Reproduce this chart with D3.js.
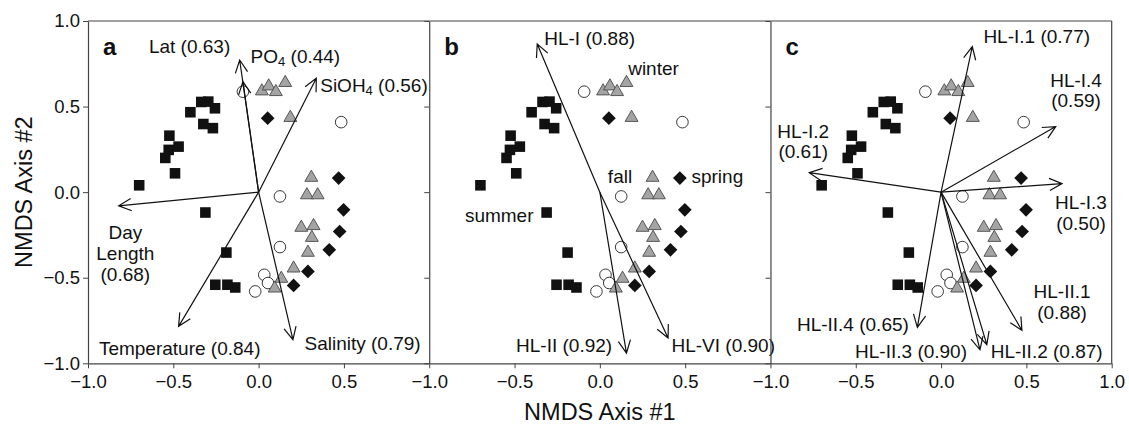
<!DOCTYPE html>
<html>
<head>
<meta charset="utf-8">
<script src="https://cdn.jsdelivr.net/npm/d3@7"></script>
<style>
body { margin: 0; background: #fff; }
text { font-family: "Liberation Sans", Arial, sans-serif; fill: #111; }
</style>
</head>
<body>
<div id="chart"></div>
<script>
const width = 1129;
const height = 425;

// sample scores (same ordination in all three panels)
const squares = [[-0.70,0.04],[-0.49,0.11],[-0.547,0.20],[-0.527,0.247],[-0.469,0.266],[-0.523,0.33],[-0.40,0.467],[-0.336,0.527],[-0.295,0.529],[-0.256,0.49],[-0.324,0.398],[-0.268,0.374],[-0.312,-0.119],[-0.189,-0.353],[-0.254,-0.541],[-0.183,-0.541],[-0.137,-0.557]];
const circles = [[-0.092,0.587],[0.484,0.409],[0.125,-0.025],[0.125,-0.321],[0.033,-0.483],[0.055,-0.531],[-0.02,-0.58]];
const triangles = [[0.019,0.59],[0.059,0.619],[0.101,0.586],[0.156,0.639],[0.186,0.435],[0.309,0.085],[0.283,-0.017],[0.346,-0.017],[0.25,-0.207],[0.322,-0.197],[0.312,-0.266],[0.289,-0.353],[0.205,-0.445],[0.133,-0.505],[0.094,-0.562]];
const diamonds = [[0.053,0.432],[0.469,0.082],[0.498,-0.103],[0.475,-0.23],[0.414,-0.337],[0.289,-0.463],[0.205,-0.545]];

// vector names and tips, per panel
const vectorsA = [
  { name: 'Lat', r: 0.63, tip: [-0.111, 0.772] },
  { name: 'PO4', r: 0.44, tip: [-0.092, 0.646] },
  { name: 'SiOH4', r: 0.56, tip: [0.338, 0.665] },
  { name: 'Salinity', r: 0.79, tip: [0.201, -0.862] },
  { name: 'Temperature', r: 0.84, tip: [-0.469, -0.784] },
  { name: 'Day Length', r: 0.68, tip: [-0.82, -0.08] }
];
const vectorsB = [
  { name: 'HL-I', r: 0.88, tip: [-0.367, 0.866] },
  { name: 'HL-II', r: 0.92, tip: [0.156, -0.94] },
  { name: 'HL-VI', r: 0.90, tip: [0.40, -0.852] }
];
const vectorsC = [
  { name: 'HL-I.1', r: 0.77, tip: [0.183, 0.85] },
  { name: 'HL-I.4', r: 0.59, tip: [0.672, 0.383] },
  { name: 'HL-I.2', r: 0.61, tip: [-0.773, 0.114] },
  { name: 'HL-I.3', r: 0.50, tip: [0.709, 0.05] },
  { name: 'HL-II.4', r: 0.65, tip: [-0.139, -0.79] },
  { name: 'HL-II.3', r: 0.90, tip: [0.228, -0.921] },
  { name: 'HL-II.2', r: 0.87, tip: [0.268, -0.891] },
  { name: 'HL-II.1', r: 0.88, tip: [0.474, -0.808] }
];

const xTicks = [-1.0, -0.5, 0.0, 0.5];
const yTicks = [1.0, 0.5, 0.0, -0.5, -1.0];

// label layout (data units of each panel): lines, anchor, x, first baseline
const labelsA = [
  { lines: ['Lat (0.63)'], anchor: 'start', x: -0.643, y: 0.811 },
  { lines: ['PO_4 (0.44)'], anchor: 'start', x: -0.047, y: 0.753 },
  { lines: ['SiOH_4 (0.56)'], anchor: 'start', x: 0.361, y: 0.587 },
  { lines: ['Day', 'Length', '(0.68)'], anchor: 'middle', x: -0.781, y: -0.274 },
  { lines: ['Temperature (0.84)'], anchor: 'start', x: -0.936, y: -0.95 },
  { lines: ['Salinity (0.79)'], anchor: 'start', x: 0.269, y: -0.925 }
];
const labelsB = [
  { lines: ['HL-I (0.88)'], anchor: 'start', x: -0.326, y: 0.86 },
  { lines: ['winter'], anchor: 'start', x: 0.166, y: 0.685 },
  { lines: ['fall'], anchor: 'start', x: 0.047, y: 0.053 },
  { lines: ['spring'], anchor: 'start', x: 0.537, y: 0.053 },
  { lines: ['summer'], anchor: 'start', x: -0.791, y: -0.172 },
  { lines: ['HL-II (0.92)'], anchor: 'end', x: 0.072, y: -0.934 },
  { lines: ['HL-VI (0.90)'], anchor: 'start', x: 0.42, y: -0.934 }
];
const labelsC = [
  { lines: ['HL-I.1 (0.77)'], anchor: 'start', x: 0.248, y: 0.87 },
  { lines: ['HL-I.4', '(0.59)'], anchor: 'middle', x: 0.791, y: 0.617 },
  { lines: ['HL-I.2', '(0.61)'], anchor: 'middle', x: -0.808, y: 0.319 },
  { lines: ['HL-I.3', '(0.50)'], anchor: 'middle', x: 0.82, y: -0.099 },
  { lines: ['HL-II.1', '(0.88)'], anchor: 'middle', x: 0.709, y: -0.619 },
  { lines: ['HL-II.4 (0.65)'], anchor: 'start', x: -0.845, y: -0.814 },
  { lines: ['HL-II.3 (0.90)'], anchor: 'start', x: -0.504, y: -0.969 },
  { lines: ['HL-II.2 (0.87)'], anchor: 'start', x: 0.291, y: -0.969 }
];

const panels = [
  { letter: 'a', vectors: vectorsA, labels: labelsA },
  { letter: 'b', vectors: vectorsB, labels: labelsB },
  { letter: 'c', vectors: vectorsC, labels: labelsC }
];

const plotLeft = 88, plotRight = 1111.7, plotTop = 21, plotBottom = 363.3;
const pw = (plotRight - plotLeft) / 3;
const axisColor = '#444';

const svg = d3.select('#chart').append('svg').attr('width', width).attr('height', height);
const y = d3.scaleLinear().domain([-1, 1]).range([plotBottom, plotTop]);

// outer frame top line
svg.append('line').attr('x1', plotLeft).attr('x2', plotRight).attr('y1', plotTop).attr('y2', plotTop)
  .attr('stroke', axisColor).attr('stroke-width', 1.2);

// draw text with "_n" subscripts
function addLabel(g, str, x0, y0, anchor) {
  const t = g.append('text').attr('x', x0).attr('y', y0).attr('text-anchor', anchor)
    .style('font-size', '19px');
  const parts = str.split(/_(\d)/);
  parts.forEach((p, i) => {
    if (i % 2 === 1) {
      t.append('tspan').attr('baseline-shift', '-25%').style('font-size', '13px').text(p);
    } else if (p) {
      t.append('tspan').text(p);
    }
  });
}

const symSquare = d3.symbol().type(d3.symbolSquare).size(112)();
const symDiamond = d3.symbol().type(d3.symbolSquare).size(94)();
const symCircle = d3.symbol().type(d3.symbolCircle).size(106)();
const symTriangle = d3.symbol().type(d3.symbolTriangle).size(72)();

panels.forEach((p, i) => {
  const x = d3.scaleLinear().domain([-1, 1]).range([plotLeft + i * pw, plotLeft + (i + 1) * pw]);
  const g = svg.append('g');

  // left axis (ticks outward), labels only on the first panel
  const yAxis = d3.axisLeft(y).tickValues(yTicks).tickSize(5).tickSizeOuter(0)
    .tickFormat(i === 0 ? d3.format('.1f') : '');
  const ya = g.append('g').attr('transform', `translate(${x(-1)},0)`).call(yAxis);
  ya.select('.domain').attr('stroke', axisColor).attr('stroke-width', 1.2);
  ya.selectAll('.tick line').attr('stroke', axisColor);
  ya.selectAll('.tick text').style('font-size', '18.5px').attr('x', -8).attr('fill', '#111');

  const xt = i === 2 ? xTicks.concat([1.0]) : xTicks;
  const xAxis = d3.axisBottom(x).tickValues(xt).tickSize(5).tickSizeOuter(0)
    .tickFormat(d3.format('.1f'));
  const xa = g.append('g').attr('transform', `translate(0,${plotBottom})`).call(xAxis);
  xa.select('.domain').attr('stroke', axisColor).attr('stroke-width', 1.2);
  xa.selectAll('.tick line').attr('stroke', axisColor);
  xa.selectAll('.tick text').style('font-size', '18.5px').attr('y', 12).attr('fill', '#111');

  if (i === 2) {
    g.append('line').attr('x1', x(1)).attr('x2', x(1)).attr('y1', plotTop).attr('y2', plotBottom)
      .attr('stroke', axisColor).attr('stroke-width', 1.2);
  }

  // points
  const pt = (d) => `translate(${x(d[0])},${y(d[1])})`;
  g.selectAll('.sq').data(squares).enter().append('path').attr('class', 'sq')
    .attr('d', symSquare).attr('transform', pt).attr('fill', '#111');
  g.selectAll('.ci').data(circles).enter().append('path').attr('class', 'ci')
    .attr('d', symCircle).attr('transform', pt).attr('fill', '#fff').attr('stroke', '#222').attr('stroke-width', 0.9);
  g.selectAll('.tr').data(triangles).enter().append('path').attr('class', 'tr')
    .attr('d', symTriangle).attr('transform', pt).attr('fill', '#a4a4a4').attr('stroke', '#4a4a4a').attr('stroke-width', 0.9);
  g.selectAll('.di').data(diamonds).enter().append('path').attr('class', 'di')
    .attr('d', symDiamond).attr('transform', d => pt(d) + ' rotate(45)').attr('fill', '#111');

  // vectors
  p.vectors.forEach(v => {
    const x0 = x(0), y0 = y(0), x1 = x(v.tip[0]), y1 = y(v.tip[1]);
    const ang = Math.atan2(y1 - y0, x1 - x0);
    const len = 14, spread = 26 * Math.PI / 180;
    const a1 = [x1 - len * Math.cos(ang - spread), y1 - len * Math.sin(ang - spread)];
    const a2 = [x1 - len * Math.cos(ang + spread), y1 - len * Math.sin(ang + spread)];
    g.append('path')
      .attr('d', `M${x0},${y0}L${x1},${y1}M${a1[0]},${a1[1]}L${x1},${y1}L${a2[0]},${a2[1]}`)
      .attr('fill', 'none').attr('stroke', '#111').attr('stroke-width', 1.2);
  });

  // labels
  p.labels.forEach(l => {
    l.lines.forEach((line, k) => addLabel(g, line, x(l.x), y(l.y) + k * 20.8, l.anchor));
  });

  g.append('text').attr('x', x(-1) + 15).attr('y', 55).text(p.letter)
    .style('font-size', '24px').style('font-weight', 'bold');
});

svg.append('text').attr('x', plotLeft + 1.5 * pw).attr('y', 420).attr('text-anchor', 'middle')
  .style('font-size', '23.5px').text('NMDS Axis #1');
svg.append('text').attr('transform', `translate(32,${(plotTop + plotBottom) / 2}) rotate(-90)`)
  .attr('text-anchor', 'middle').style('font-size', '23.5px').text('NMDS Axis #2');
</script>
</body>
</html>
